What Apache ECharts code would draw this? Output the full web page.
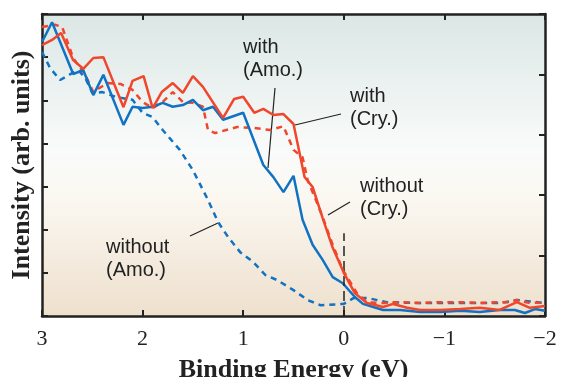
<!DOCTYPE html>
<html><head><meta charset="utf-8">
<script src="https://cdn.jsdelivr.net/npm/echarts@6/dist/echarts.min.js"></script>
<style>html,body{margin:0;padding:0;background:#fff}#c{width:563px;height:377px}</style>
</head><body><div id="c"></div>
<script>
// Binding energy (eV) / intensity (arb. units, left axis scale 0..7)
const withCry = [[3.0,6.28],[2.9,6.40],[2.81,6.56],[2.69,5.93],[2.59,5.73],[2.49,5.98],[2.39,6.00],[2.19,4.84],[2.1,5.45],[1.99,5.56],[1.9,4.82],[1.81,5.19],[1.7,5.40],[1.6,5.17],[1.5,5.56],[1.4,5.31],[1.2,4.59],[1.09,5.03],[1.0,5.08],[0.89,4.71],[0.8,4.80],[0.7,4.66],[0.6,4.68],[0.5,4.45],[0.39,3.22],[0.31,2.99],[0.21,2.27],[0.11,1.58],[0.0,1.0],[-0.11,0.53],[-0.23,0.30],[-0.39,0.21],[-0.49,0.28],[-0.63,0.19],[-0.76,0.14],[-0.96,0.14],[-1.16,0.16],[-1.35,0.19],[-1.55,0.14],[-1.72,0.32],[-1.85,0.19],[-2.0,0.23]];
const withAmo = [[3.0,6.35],[2.9,6.81],[2.69,5.61],[2.59,5.70],[2.49,5.12],[2.39,5.59],[2.19,4.43],[2.1,4.85],[2.0,4.82],[1.9,4.85],[1.8,4.94],[1.7,4.85],[1.6,4.89],[1.5,5.01],[1.4,4.77],[1.3,4.85],[1.2,4.55],[1.0,4.71],[0.8,3.50],[0.7,3.22],[0.6,2.87],[0.5,3.25],[0.41,2.23],[0.31,1.65],[0.21,1.30],[0.11,0.90],[0.01,0.76],[-0.11,0.44],[-0.19,0.28],[-0.39,0.14],[-0.56,0.14],[-0.76,0.09],[-0.96,0.09],[-1.16,0.12],[-1.35,0.09],[-1.55,0.14],[-1.70,0.14],[-1.80,0.07],[-1.90,0.16],[-2.0,0.12]];
const withoutCry = [[3.0,6.70],[2.87,6.75],[2.80,6.70],[2.69,5.98],[2.57,5.59],[2.49,5.19],[2.35,5.40],[2.22,5.38],[2.10,5.24],[2.0,4.96],[1.9,4.82],[1.8,4.96],[1.7,5.19],[1.6,4.96],[1.5,4.94],[1.4,4.85],[1.35,4.31],[1.28,4.24],[1.06,4.38],[0.9,4.36],[0.73,4.31],[0.6,4.40],[0.5,3.85],[0.41,3.68],[0.36,3.15],[0.29,2.76],[0.21,2.29],[0.11,1.65],[0.01,1.07],[-0.13,0.53],[-0.23,0.32],[-0.39,0.30],[-0.56,0.32],[-0.76,0.30],[-0.96,0.32],[-1.16,0.32],[-1.35,0.30],[-1.52,0.32],[-1.63,0.32],[-1.72,0.37],[-1.85,0.30],[-2.0,0.32]];
const withoutAmo = [[3.0,6.12],[2.92,5.75],[2.82,5.47],[2.70,5.63],[2.64,5.70],[2.57,5.52],[2.50,5.17],[2.40,5.19],[2.27,5.08],[2.10,5.01],[2.0,4.71],[1.9,4.61],[1.8,4.31],[1.63,3.85],[1.5,3.38],[1.35,2.69],[1.25,2.18],[1.15,1.83],[1.03,1.48],[0.90,1.25],[0.78,0.95],[0.66,0.83],[0.5,0.60],[0.36,0.37],[0.23,0.25],[0.0,0.28],[-0.10,0.42],[-0.23,0.42],[-0.43,0.32],[-0.76,0.30],[-1.16,0.30],[-1.55,0.30],[-1.72,0.37],[-2.0,0.30]];
const xTicks = [3, 2, 1, 0, -1, -2];
const fermiLine = [[0, 0], [0, 1.92]];

const RED = '#f0462c', BLUE = '#1272c2', INK = '#222';
const chart = echarts.init(document.getElementById('c'));
const axisLine = {show: true, onZero: false, lineStyle: {color: INK, width: 2.5}};
const axisTick = {show: true, inside: true, length: 6, lineStyle: {color: INK, width: 2}};
const sansText = (x, y, t) => ({type: 'text', left: x, top: y, style: {text: t, font: '20px "Liberation Sans", Arial, sans-serif', fill: INK, lineHeight: 23}});
const leader = (x1, y1, x2, y2) => ({type: 'line', shape: {x1, y1, x2, y2}, style: {stroke: INK, lineWidth: 1.2}});
chart.setOption({
  animation: false,
  grid: {left: 42, right: 18, top: 14, bottom: 61, show: true, borderWidth: 0, containLabel: false, outerBoundsMode: 'none',
    backgroundColor: {type: 'linear', x: 0, y: 0, x2: 0, y2: 1, colorStops: [
      {offset: 0, color: '#dbe7e5'}, {offset: 0.45, color: '#f9fbfa'}, {offset: 0.6, color: '#fbf8f2'}, {offset: 1, color: '#eee0cd'}]}},
  xAxis: [{
    type: 'value', min: -2, max: 3, interval: 1, inverse: true, position: 'bottom',
    axisLine, axisTick, splitLine: {show: false},
    axisLabel: {margin: 12, color: INK, fontFamily: '"Liberation Serif", "Times New Roman", serif', fontSize: 22,
      formatter: v => xTicks.includes(v) ? String(v).replace('-', '\u2212') : ''},
    name: 'Binding Energy (eV)', nameLocation: 'middle', nameGap: 41,
    nameTextStyle: {color: INK, fontFamily: '"Liberation Serif", "Times New Roman", serif', fontSize: 26, fontWeight: 'bold'}
  }, {
    type: 'value', min: -2, max: 3, interval: 1, inverse: true, position: 'top',
    axisLine, axisTick, splitLine: {show: false}, axisLabel: {show: false}
  }],
  yAxis: [{
    type: 'value', min: 0, max: 7, interval: 1, position: 'left',
    axisLine, axisTick, splitLine: {show: false}, axisLabel: {show: false},
    name: 'Intensity (arb. units)', nameLocation: 'middle', nameGap: 7,
    nameTextStyle: {color: INK, fontFamily: '"Liberation Serif", "Times New Roman", serif', fontSize: 26, fontWeight: 'bold'}
  }, {
    type: 'value', min: 0, max: 5, interval: 1, position: 'right',
    axisLine, axisTick, splitLine: {show: false}, axisLabel: {show: false}
  }],
  series: [
    {type: 'line', data: withoutAmo, showSymbol: false, lineStyle: {color: BLUE, width: 2.5, type: [6, 5]}, z: 2},
    {type: 'line', data: withoutCry, showSymbol: false, lineStyle: {color: RED, width: 2.5, type: [6, 5]}, z: 3},
    {type: 'line', data: withAmo, showSymbol: false, lineStyle: {color: BLUE, width: 2.5}, z: 4},
    {type: 'line', data: withCry, showSymbol: false, lineStyle: {color: RED, width: 2.5}, z: 5,
      markLine: {silent: true, symbol: 'none', label: {show: false},
        lineStyle: {color: INK, width: 1.5, type: [10, 5]},
        data: [[{coord: fermiLine[0]}, {coord: fermiLine[1]}]]}}
  ],
  graphic: [
    sansText(243, 36, 'with\n(Amo.)'),
    sansText(350, 85, 'with\n(Cry.)'),
    sansText(360, 175, 'without\n(Cry.)'),
    sansText(106, 236, 'without\n(Amo.)'),
    leader(275, 88, 268, 168),
    leader(295, 125, 341, 114),
    leader(328, 215, 350, 202),
    leader(190, 236, 218, 223)
  ]
});
</script></body></html>
